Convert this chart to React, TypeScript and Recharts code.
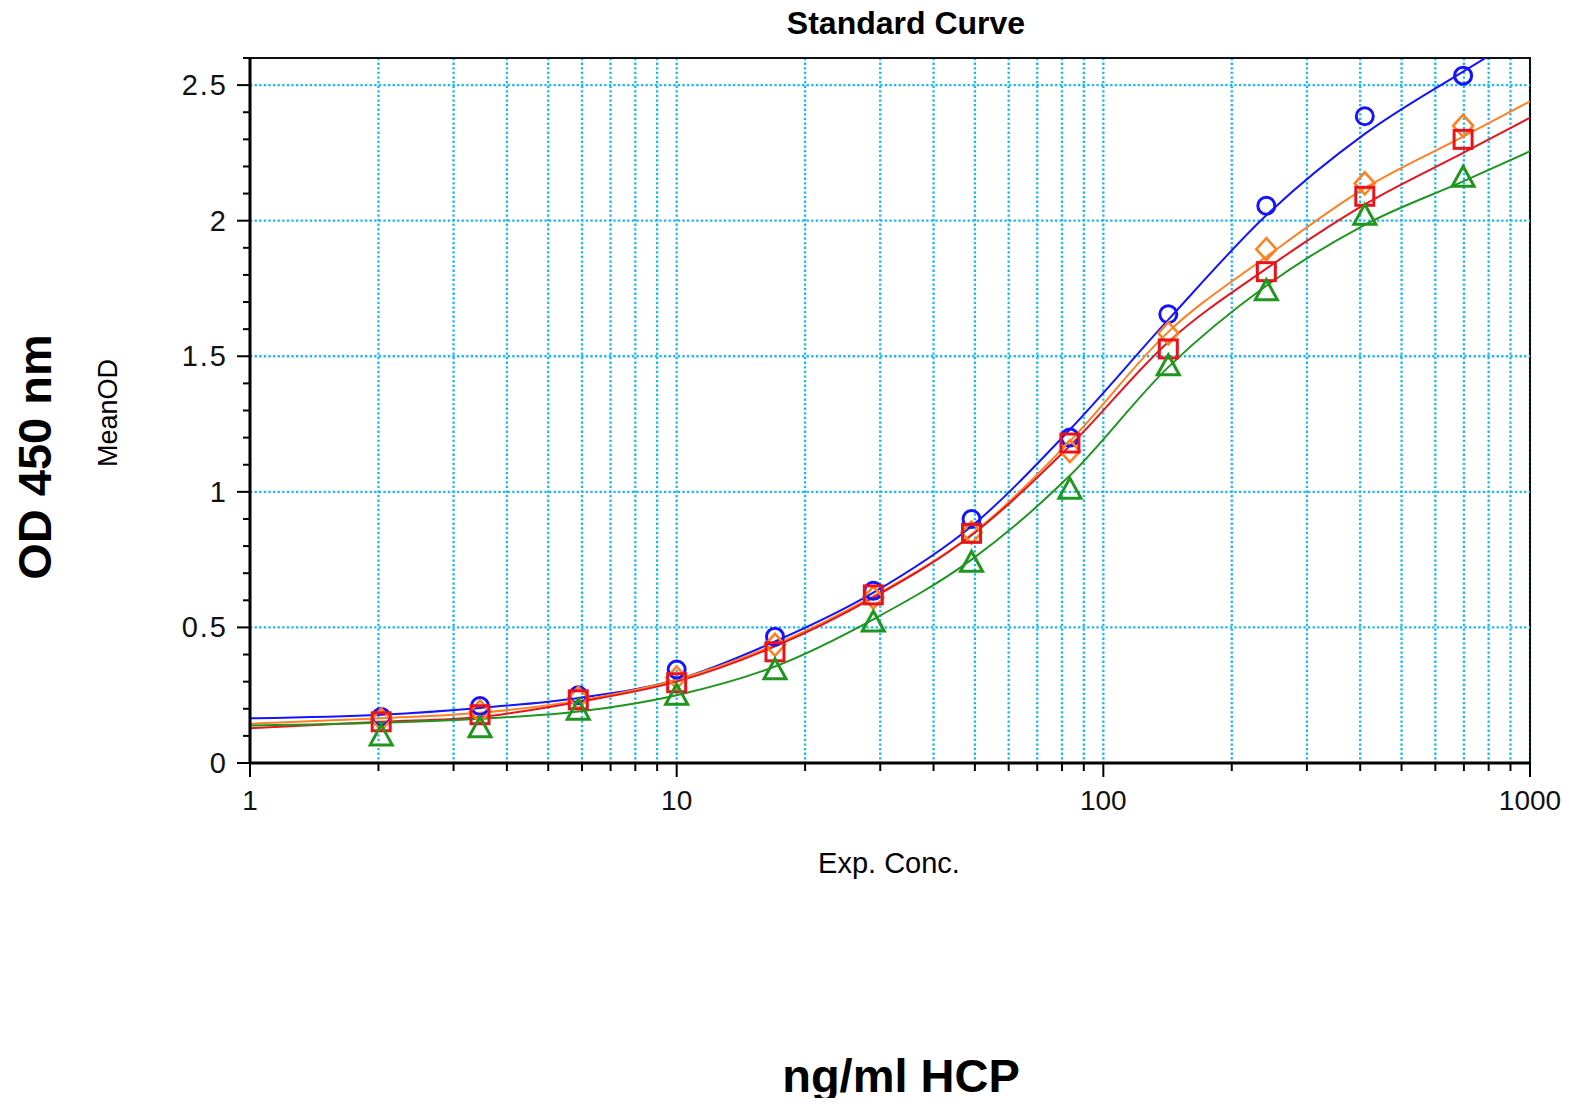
import { ComposedChart, Line, Scatter, XAxis, YAxis, CartesianGrid, ReferenceLine, ReferenceArea } from "recharts";

// measured standards (ng/ml) and mean OD per plate
const conc = [2.03, 3.46, 5.88, 10, 17, 28.9, 49.1, 83.5, 142, 241, 410, 697];
const blueOD = [0.17, 0.21, 0.25, 0.345, 0.466, 0.635, 0.9, 1.2, 1.655, 2.055, 2.385, 2.535];
const orangeOD = [0.16, 0.19, 0.24, 0.315, 0.436, 0.61, 0.85, 1.15, 1.585, 1.895, 2.138, 2.35];
const redOD = [0.152, 0.178, 0.233, 0.296, 0.41, 0.62, 0.847, 1.18, 1.527, 1.812, 2.09, 2.3];
const greenOD = [0.1, 0.13, 0.195, 0.25, 0.344, 0.52, 0.74, 1.01, 1.465, 1.742, 2.02, 2.16];

// fitted curves
const fitConc = [1, 2.03, 3.46, 5.88, 10, 17, 28.9, 49.1, 83.5, 142, 241, 410, 697, 1000];
const blueFit = [0.165, 0.178, 0.203, 0.24, 0.307, 0.448, 0.628, 0.873, 1.23, 1.635, 2.02, 2.32, 2.55, 2.7];
const orangeFit = [0.145, 0.165, 0.185, 0.23, 0.307, 0.436, 0.615, 0.843, 1.187, 1.59, 1.867, 2.12, 2.31, 2.44];
const redFit = [0.128, 0.152, 0.17, 0.225, 0.3, 0.43, 0.61, 0.84, 1.17, 1.553, 1.823, 2.06, 2.25, 2.38];
const greenFit = [0.138, 0.148, 0.163, 0.19, 0.25, 0.356, 0.53, 0.75, 1.06, 1.46, 1.76, 1.985, 2.145, 2.256];

const xTicks = [1, 2, 3, 4, 5, 6, 7, 8, 9, 10, 20, 30, 40, 50, 60, 70, 80, 90, 100, 200, 300, 400, 500, 600, 700, 800, 900, 1000];
const xLabels = [1, 10, 100, 1000];
const yTicks = [0, 0.1, 0.2, 0.3, 0.4, 0.5, 0.6, 0.7, 0.8, 0.9, 1, 1.1, 1.2, 1.3, 1.4, 1.5, 1.6, 1.7, 1.8, 1.9, 2, 2.1, 2.2, 2.3, 2.4, 2.5, 2.6];
const yGrid = [0.5, 1, 1.5, 2, 2.5];

const BLUE = "#1414ff";
const ORANGE = "#ff8022";
const RED = "#e8141c";
const GREEN = "#1f961f";
const GRID = "#1ab8f0";

const pts = (xs: number[], ys: number[]) => xs.map((x, i) => ({ x, y: ys[i] }));

const XTick = (props: any) => {
  const { x, y, payload } = props;
  const major = xLabels.includes(payload.value);
  return (
    <g>
      <line x1={x} x2={x} y1={y} y2={y + (major ? 14 : 8)} stroke="#000" strokeWidth={2} />
      {major && (
        <text x={x} y={y + 47} textAnchor="middle" fontSize={28} fill="#111" fontFamily="Liberation Sans, Arial, sans-serif">
          {payload.value}
        </text>
      )}
    </g>
  );
};

const YTick = (props: any) => {
  const { x, y, payload } = props;
  const v = payload.value;
  const major = Math.abs(v * 2 - Math.round(v * 2)) < 1e-6;
  return (
    <g>
      <line x1={x} x2={x - (major ? 13 : 7)} y1={y} y2={y} stroke="#000" strokeWidth={2} />
      {major && (
        <text x={x - 22} y={y + 10} textAnchor="end" fontSize={29} fill="#111" fontFamily="Liberation Sans, Arial, sans-serif" letterSpacing={2}>
          {v}
        </text>
      )}
    </g>
  );
};

const circle = (c: string) => (p: any) => <circle cx={p.cx} cy={p.cy} r={8.5} fill="none" stroke={c} strokeWidth={3} />;
const square = (c: string) => (p: any) => <rect x={p.cx - 9} y={p.cy - 9} width={18} height={18} fill="none" stroke={c} strokeWidth={3} />;
const diamond = (c: string) => (p: any) => (
  <polygon points={`${p.cx},${p.cy - 11} ${p.cx + 10},${p.cy} ${p.cx},${p.cy + 11} ${p.cx - 10},${p.cy}`} fill="none" stroke={c} strokeWidth={2.6} />
);
const triangle = (c: string) => (p: any) => (
  <polygon points={`${p.cx},${p.cy - 11} ${p.cx + 11},${p.cy + 9} ${p.cx - 11},${p.cy + 9}`} fill="none" stroke={c} strokeWidth={3} />
);

const label = (style: React.CSSProperties, text: string) => (
  <div style={{ position: "absolute", transform: "translate(-50%, -50%)", whiteSpace: "nowrap", fontFamily: "Liberation Sans, Arial, sans-serif", color: "#000", ...style }}>
    {text}
  </div>
);

export default function App() {
  return (
    <div style={{ position: "relative", width: 1553, height: 1090 }}>
      <ComposedChart width={1553} height={1090} margin={{ top: 50, right: 31, bottom: 275, left: 162 }}>
        <CartesianGrid horizontal={false} stroke={GRID} strokeWidth={2.3} strokeDasharray="2.3 2.3" />
        {yGrid.map((v) => (
          <ReferenceLine key={v} y={v} stroke={GRID} strokeWidth={2.3} strokeDasharray="2.3 2.3" />
        ))}
        <XAxis
          dataKey="x"
          type="number"
          scale="log"
          domain={[1, 1000]}
          ticks={xTicks}
          interval={0}
          allowDataOverflow
          height={60}
          tickSize={0}
          tickMargin={0}
          tickLine={false}
          tick={(p: any) => <XTick {...p} />}
          axisLine={{ stroke: "#000", strokeWidth: 3 }}
        />
        <YAxis
          dataKey="y"
          type="number"
          domain={[0, 2.6]}
          ticks={yTicks}
          interval={0}
          allowDataOverflow
          width={80}
          tickSize={0}
          tickMargin={0}
          tickLine={false}
          tick={(p: any) => <YTick {...p} />}
          axisLine={{ stroke: "#000", strokeWidth: 3 }}
        />
        <ReferenceArea x1={1} x2={1000} y1={0} y2={2.6} fill="none" stroke="#111" strokeWidth={2} />
        <Line data={pts(fitConc, blueFit)} dataKey="y" type="monotone" stroke={BLUE} strokeWidth={2} dot={false} isAnimationActive={false} />
        <Line data={pts(fitConc, orangeFit)} dataKey="y" type="monotone" stroke={ORANGE} strokeWidth={2} dot={false} isAnimationActive={false} />
        <Line data={pts(fitConc, redFit)} dataKey="y" type="monotone" stroke={RED} strokeWidth={2} dot={false} isAnimationActive={false} />
        <Line data={pts(fitConc, greenFit)} dataKey="y" type="monotone" stroke={GREEN} strokeWidth={2} dot={false} isAnimationActive={false} />
        <Scatter data={pts(conc, blueOD)} dataKey="y" shape={circle(BLUE)} isAnimationActive={false} />
        <Scatter data={pts(conc, orangeOD)} dataKey="y" shape={diamond(ORANGE)} isAnimationActive={false} />
        <Scatter data={pts(conc, redOD)} dataKey="y" shape={square(RED)} isAnimationActive={false} />
        <Scatter data={pts(conc, greenOD)} dataKey="y" shape={triangle(GREEN)} isAnimationActive={false} />
      </ComposedChart>
      {label({ left: 898, top: 15, fontSize: 32, fontWeight: 700 }, "Standard Curve")}
      {label({ left: 881, top: 855, fontSize: 29 }, "Exp. Conc.")}
      {label({ left: 100, top: 405, fontSize: 27, transform: "translate(-50%, -50%) rotate(-90deg)" }, "MeanOD")}
      {label({ left: 26, top: 449, fontSize: 47, fontWeight: 700, transform: "translate(-50%, -50%) rotate(-90deg)" }, "OD 450 nm")}
      {label({ left: 893, top: 1067, fontSize: 47, fontWeight: 700 }, "ng/ml HCP")}
    </div>
  );
}
